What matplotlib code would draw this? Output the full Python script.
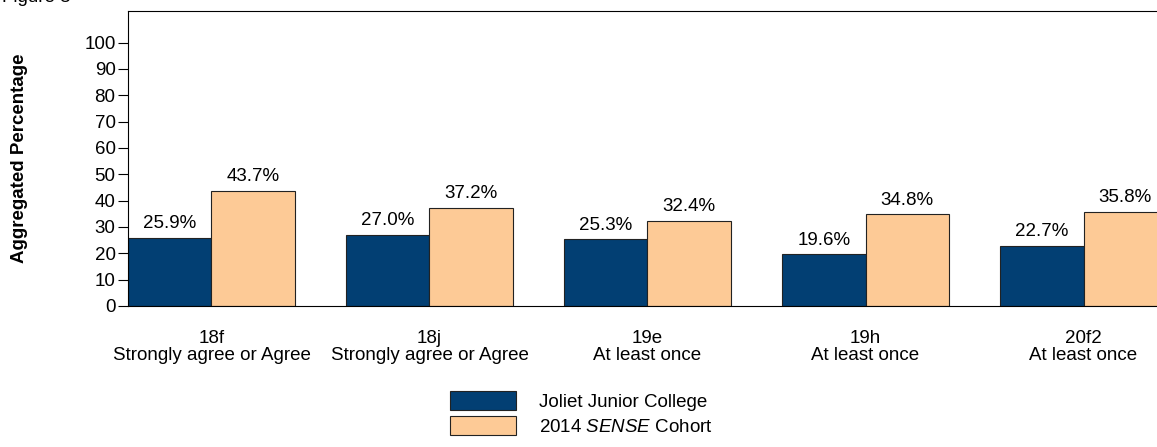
import matplotlib
matplotlib.use("Agg")
import matplotlib.pyplot as plt
import numpy as np
from matplotlib.patches import Patch

plt.rcParams["font.family"] = ["Liberation Sans", "DejaVu Sans"]
plt.rcParams["mathtext.fontset"] = "custom"
plt.rcParams["mathtext.rm"] = "Liberation Sans"
plt.rcParams["mathtext.it"] = "Liberation Sans:italic"

categories = ["18f\nStrongly agree or Agree", "18j\nStrongly agree or Agree",
              "19e\nAt least once", "19h\nAt least once", "20f2\nAt least once"]
college = [25.9, 27.0, 25.3, 19.6, 22.7]
cohort = [43.7, 37.2, 32.4, 34.8, 35.8]
series_names = ["Joliet Junior College", "2014 $\\it{SENSE}$ Cohort"]

dark = "#023f73"
light = "#fdca96"
fs = 13.5

W, H = 1157, 447
fig = plt.figure(figsize=(W / 100, H / 100), dpi=100)
ax = fig.add_axes([128 / W, 1 - 306 / H, (1167 - 128) / W, (306 - 11) / H])

x = np.arange(len(categories))
bw = 0.383
b1 = ax.bar(x - bw / 2, college, bw, color=dark, edgecolor="#222222", linewidth=0.8)
b2 = ax.bar(x + bw / 2, cohort, bw, color=light, edgecolor="#222222", linewidth=0.8)
for bars, vals in ((b1, college), (b2, cohort)):
    for r, v in zip(bars, vals):
        ax.text(r.get_x() + r.get_width() / 2, v + 2.2, f"{v:.1f}%",
                ha="center", va="bottom", fontsize=fs)

ax.set_xlim(-bw, len(categories) - 1 + bw)
ax.set_ylim(0, 112)
ax.set_yticks(range(0, 101, 10))
ax.set_xticks(x)
ax.set_xticklabels(categories, fontsize=fs, linespacing=1.05)
ax.tick_params(axis="x", length=0, pad=17)
ax.tick_params(axis="y", labelsize=fs, length=7, width=0.8, pad=2)
for s in ax.spines.values():
    s.set_linewidth(0.8)
ax.set_ylabel("Aggregated Percentage", fontsize=fs, fontweight="bold")
ax.yaxis.set_label_coords(-0.0963, 0.5)

handles = [Patch(facecolor=dark, edgecolor="#222222", linewidth=0.8),
           Patch(facecolor=light, edgecolor="#222222", linewidth=0.8)]
fig.legend(handles, series_names, loc="upper left", bbox_to_anchor=(450 / W, 1 - 391 / H),
           frameon=False, fontsize=fs, handlelength=3.5, handleheight=1.2,
           labelspacing=0.25, handletextpad=1.25, borderpad=0, borderaxespad=0)

fig.text(0.002, 1.005, "Figure 3", fontsize=fs, va="center", ha="left")

fig.savefig("out.png", dpi=100)
